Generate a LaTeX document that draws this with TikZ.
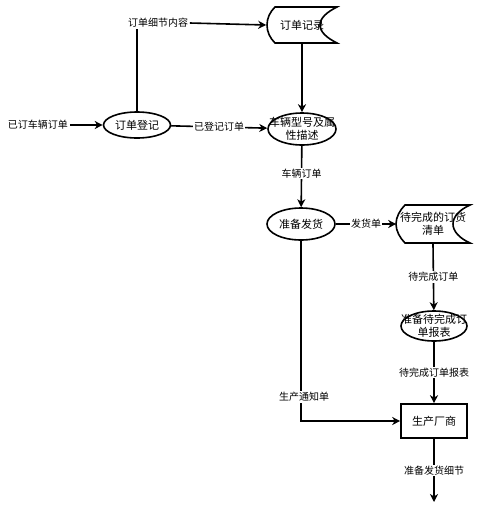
\documentclass[tikz,border=0pt]{standalone}
\usepackage{fontspec}
\setmainfont{Noto Sans CJK SC}
\usetikzlibrary{arrows.meta,shapes.geometric}
\begin{document}
\begin{tikzpicture}[x=1pt,y=-1pt,
  line width=1.6pt,
  arr/.style={-{Stealth[length=8pt,width=8pt,inset=2.5pt]}},
  proc/.style={ellipse,draw,line width=1.6pt,inner sep=0pt},
  txt/.style={inner sep=0pt,font=\fontsize{11}{13}\selectfont,align=center},
  store/.style={draw=none,inner sep=0pt},
  lbl/.style={fill=white,inner sep=1pt,font=\fontsize{10}{12}\selectfont},
  ent/.style={draw,line width=1.6pt,inner sep=0pt,font=\fontsize{11}{13}\selectfont}
]
\useasboundingbox (0,0) rectangle (478,520);
\fill[white] (0,0) rectangle (478,520);

% nodes
\node[lbl] (src) at (38,125) {已订车辆订单};
\node[proc,minimum width=67pt,minimum height=26pt] (reg) at (137,125) {};
\node[txt] (regt) at (reg) {订单登记};
\node[proc,minimum width=68pt,minimum height=32pt] (car) at (302,129) {};
\node[txt] (cart) at (car) {车辆型号及属\\性描述};
\node[store,minimum width=70pt,minimum height=36pt] (rec) at (302,25) {};
\draw (275,7) .. controls (270,12) and (267,18) .. (267,25)
  .. controls (267,32) and (270,38) .. (275,43) -- (337,43)
  .. controls (327,38) and (320,32) .. (320,25)
  .. controls (320,18) and (327,12) .. (337,7) -- cycle;
\node[txt] (rect) at (rec) {订单记录};
\node[lbl] (det) at (158,23) {订单细节内容};

\node[proc,minimum width=68pt,minimum height=32pt] (prep) at (301,224) {};
\node[txt] (prept) at (prep) {准备发货};
\node[store,minimum width=72pt,minimum height=38pt] (pend) at (433,224) {};
\draw (405,205) .. controls (400,210) and (396,217) .. (396,224)
  .. controls (396,231) and (400,238) .. (405,243) -- (470,243)
  .. controls (459,238) and (453,231) .. (453,224)
  .. controls (453,217) and (459,210) .. (470,205) -- cycle;
\node[txt] (pendt) at (pend) {待完成的订货\\清单};
\node[proc,minimum width=66pt,minimum height=30pt] (rpt) at (434,326) {};
\node[txt] (rptt) at (rpt) {准备待完成订\\单报表};
\node[ent,minimum width=66pt,minimum height=34pt] (mfr) at (434,421) {生产厂商};
\coordinate (out) at (434,502);

% connectors
\draw[arr] (src) -- (reg);
\draw (reg.north) -- (reg.north |- det.south);
\draw[arr] (det.east) -- (rec.west);
\draw[arr] (reg) -- node[lbl] {已登记订单} (car);
\draw[arr] (rec.south) -- (car.north);
\draw[arr] (car) -- node[lbl,pos=0.45] {车辆订单} (prep);
\draw[arr] (prep) -- node[lbl] {发货单} (pend.west);
\draw[arr] (pend.south) -- node[lbl] {待完成订单} (rpt);
\draw[arr] (rpt) -- node[lbl] {待完成订单报表} (mfr);
\draw[arr] (prep.south) |- (mfr.west);
\node[lbl] (notice) at (304,397) {生产通知单};
\draw[arr] (mfr) -- node[lbl,pos=0.5] {准备发货细节} (out);
\end{tikzpicture}
\end{document}
